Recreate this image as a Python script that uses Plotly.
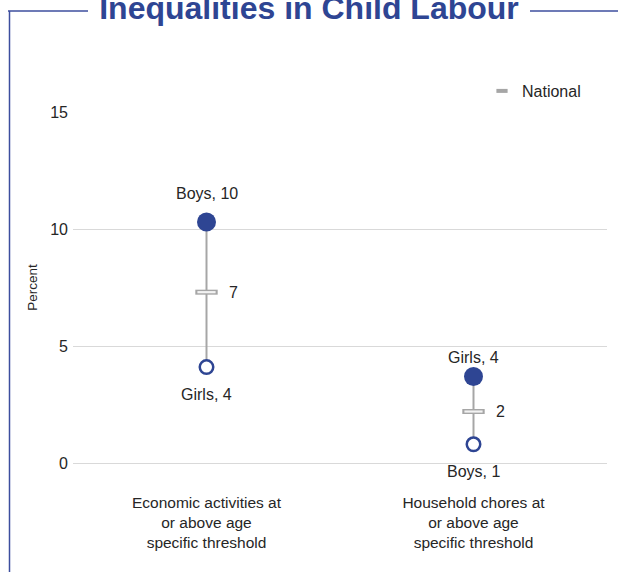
import plotly.graph_objects as go

categories = ["Economic activities at<br>or above age<br>specific threshold",
              "Household chores at<br>or above age<br>specific threshold"]
boys = [10.3, 0.8]
girls = [4.1, 3.7]
national = [7.3, 2.2]
y_ticks = [0, 5, 10, 15]

W, H = 618, 572
ML, MR, MT, MB = 73, 11, 112, 109
PW, PH = W - ML - MR, H - MT - MB

BLUE = "#2E4593"
GRAY = "#A6A6A6"
TXT = "#262626"
FONT = "Arial, Liberation Sans, sans-serif"
HI_SHIFT = [28, 19]   # label offsets (px) above the filled markers

xs = list(range(len(categories)))
hi_v, lo_v, hi_lab, lo_lab = [], [], [], []
for b, g in zip(boys, girls):
    if b >= g:
        hi_v.append(b); lo_v.append(g)
        hi_lab.append(f"Boys, {round(b)}"); lo_lab.append(f"Girls, {round(g)}")
    else:
        hi_v.append(g); lo_v.append(b)
        hi_lab.append(f"Girls, {round(g)}"); lo_lab.append(f"Boys, {round(b)}")

fig = go.Figure()

# stems
sx, sy = [], []
for x, h, l in zip(xs, hi_v, lo_v):
    sx += [x, x, None]
    sy += [l, h, None]
fig.add_trace(go.Scatter(x=sx, y=sy, mode="lines", line=dict(color=GRAY, width=2),
                         showlegend=False, hoverinfo="skip"))

# national markers (hollow rectangle)
fig.add_trace(go.Scatter(x=xs, y=national, mode="markers",
                         marker=dict(symbol="line-ew", size=16, line=dict(color=GRAY, width=5)),
                         showlegend=False, cliponaxis=False))
fig.add_trace(go.Scatter(x=xs, y=national, mode="markers",
                         marker=dict(symbol="line-ew", size=13, line=dict(color="#F2F2F2", width=2.2)),
                         showlegend=False, hoverinfo="skip", cliponaxis=False))
# legend entry
fig.add_trace(go.Scatter(x=[None], y=[None], mode="markers", name="National",
                         marker=dict(symbol="line-ew", size=8, line=dict(color=GRAY, width=4))))

# high (filled) and low (open) markers
fig.add_trace(go.Scatter(x=xs, y=hi_v, mode="markers",
                         marker=dict(symbol="circle", size=19, color=BLUE, line=dict(width=0)),
                         showlegend=False, cliponaxis=False))
fig.add_trace(go.Scatter(x=xs, y=lo_v, mode="markers",
                         marker=dict(symbol="circle", size=13.5, color="white", line=dict(color=BLUE, width=2.5)),
                         showlegend=False, cliponaxis=False))

ann = []
for x, h, l, hl, ll, n, hs in zip(xs, hi_v, lo_v, hi_lab, lo_lab, national, HI_SHIFT):
    ann.append(dict(x=x, y=h, text=hl, showarrow=False, yshift=hs,
                    font=dict(size=16, color=TXT, family=FONT)))
    ann.append(dict(x=x, y=l, text=ll, showarrow=False, yshift=-27,
                    font=dict(size=16, color=TXT, family=FONT)))
    ann.append(dict(x=x, y=n, text=str(round(n)), showarrow=False, xshift=20, xanchor="left",
                    font=dict(size=16, color=TXT, family=FONT)))

def px(x):
    return (x - ML) / PW

def py(y):
    return (H - MB - y) / PH

FRAME = "#3C4E9E"
shapes = [
    dict(type="line", xref="paper", yref="paper", x0=px(8), x1=px(88), y0=py(11), y1=py(11),
         line=dict(color=FRAME, width=1.5)),
    dict(type="line", xref="paper", yref="paper", x0=px(530), x1=px(620), y0=py(11), y1=py(11),
         line=dict(color=FRAME, width=1.5)),
    dict(type="line", xref="paper", yref="paper", x0=px(9.5), x1=px(9.5), y0=py(11), y1=py(575),
         line=dict(color=FRAME, width=1.5)),
]

fig.update_layout(
    width=W, height=H,
    margin=dict(l=ML, r=MR, t=MT, b=MB),
    paper_bgcolor="white", plot_bgcolor="white",
    font=dict(family=FONT, size=16, color=TXT),
    title=dict(text="<b>Inequalities in Child Labour</b>", x=0.5, xref="container", xanchor="center",
               y=1 - 7.5 / H, yref="container", yanchor="middle",
               font=dict(size=32, color=BLUE, family=FONT)),
    showlegend=True,
    legend=dict(x=px(482), xanchor="left", y=py(91), yanchor="middle", bgcolor="rgba(0,0,0,0)",
                font=dict(size=16, color=TXT)),
    annotations=ann,
    shapes=shapes,
    xaxis=dict(range=[-0.5, 1.5], tickmode="array", tickvals=xs, ticktext=categories,
               showgrid=False, zeroline=False, showline=False, ticks="",
               ticklabelstandoff=28, tickfont=dict(size=15.5, color=TXT)),
    yaxis=dict(range=[0, 15], tickmode="array", tickvals=y_ticks, ticktext=[str(t) for t in y_ticks],
               showgrid=True, gridcolor="#D9D9D9", gridwidth=1, zeroline=True, zerolinecolor="#D9D9D9",
               zerolinewidth=1, showline=False, ticks="", ticklabelstandoff=4,
               tickfont=dict(size=16, color=TXT),
               title=dict(text="Percent", font=dict(size=13.5, color=TXT), standoff=9)),
)

fig.write_html("out.html", config={"displayModeBar": False},
               post_script="document.body.style.margin='0';document.body.style.overflow='hidden';")
